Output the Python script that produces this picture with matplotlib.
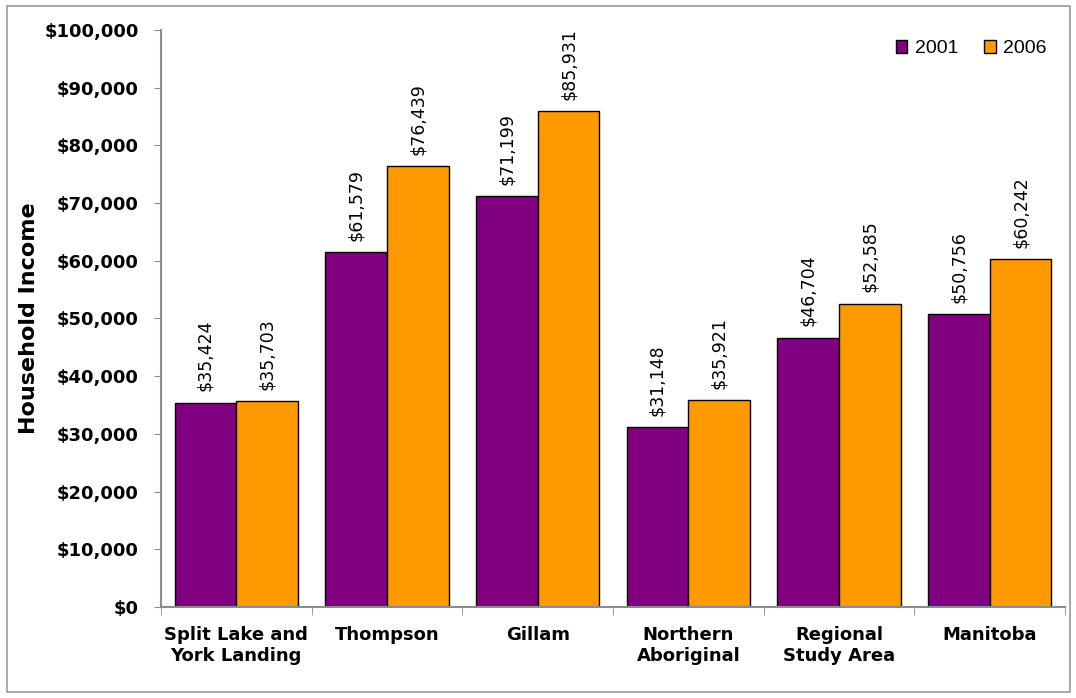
import matplotlib
matplotlib.use("Agg")
import matplotlib.pyplot as plt
import numpy as np
from matplotlib.patches import Rectangle
from matplotlib.ticker import FuncFormatter, MultipleLocator

categories = ["Split Lake and\nYork Landing", "Thompson", "Gillam",
              "Northern\nAboriginal", "Regional\nStudy Area", "Manitoba"]
income_2001 = [35424, 61579, 71199, 31148, 46704, 50756]
income_2006 = [35703, 76439, 85931, 35921, 52585, 60242]
series_names = ["2001", "2006"]
colors = ["#800080", "#FF9900"]

fig = plt.figure(figsize=(10.76, 6.98), dpi=100)
fig.patches.append(Rectangle((0.0065, 0.008), 0.988, 0.984, transform=fig.transFigure,
                             fill=False, edgecolor="#9a9a9a", linewidth=1.2))
ax = fig.add_axes([0.1496, 0.1304, 0.8402, 0.8266])

x = np.arange(len(categories))
w = 0.41
b1 = ax.bar(x - w / 2, income_2001, w, color=colors[0], edgecolor="black", linewidth=1.0,
            label=series_names[0])
b2 = ax.bar(x + w / 2, income_2006, w, color=colors[1], edgecolor="black", linewidth=1.0,
            label=series_names[1])

for bars, vals in ((b1, income_2001), (b2, income_2006)):
    for r, v in zip(bars, vals):
        ax.annotate(f"${v:,.0f}", (r.get_x() + r.get_width() / 2, v),
                    xytext=(0, 8), textcoords="offset points", rotation=90,
                    ha="center", va="bottom", fontsize=12.5, family="DejaVu Sans")

ax.set_xlim(-0.5, len(categories) - 0.5)
ax.set_ylim(0, 100000)
ax.yaxis.set_major_locator(MultipleLocator(10000))
ax.yaxis.set_major_formatter(FuncFormatter(lambda v, p: f"${v:,.0f}"))
ax.set_xticks(x)
ax.set_xticklabels(categories, fontsize=13, fontweight="bold", linespacing=1.2)
ax.set_xticks(np.arange(-0.5, len(categories)), minor=True)
ax.tick_params(axis="x", which="major", length=0, pad=14)
ax.tick_params(axis="x", which="minor", length=6, color="#8c8c8c", direction="out")
ax.tick_params(axis="y", length=5, color="#8c8c8c", direction="out", pad=11)
for lab in ax.get_yticklabels():
    lab.set_fontweight("bold")
    lab.set_fontsize(13)

for s in ("top", "right"):
    ax.spines[s].set_visible(False)
for s in ("left", "bottom"):
    ax.spines[s].set_color("#8c8c8c")
    ax.spines[s].set_linewidth(1.5)

ax.set_ylabel("Household Income", fontsize=16, fontweight="bold")
ax.yaxis.set_label_coords(-0.135, 0.5)

ax.legend(loc="upper right", bbox_to_anchor=(0.98, 0.982), frameon=False, ncol=2,
          handlelength=0.6, handleheight=0.6, handletextpad=0.4,
          columnspacing=1.3, borderpad=0, borderaxespad=0,
          prop={"family": "Liberation Sans", "size": 14})

fig.savefig("out.png", dpi=100)
